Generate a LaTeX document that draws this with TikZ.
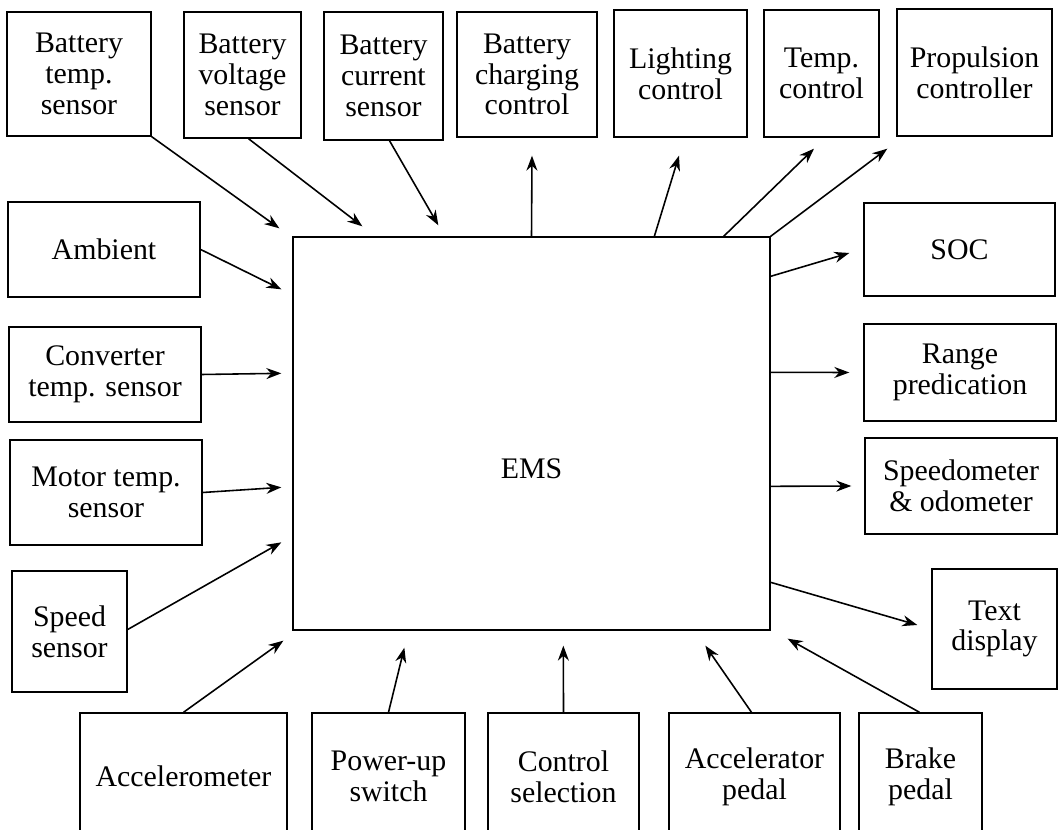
\documentclass[tikz,border=0pt]{standalone}
\usepackage{fontspec}
\setmainfont{Liberation Serif}
\usetikzlibrary{arrows.meta}

\begin{document}
\begin{tikzpicture}[
  x=0.02cm,y=-0.02cm,
  box/.style={rectangle,draw=black,line width=0.8pt,align=center,inner sep=2pt,font=\fontsize{17}{17.5}\selectfont},
  label text/.style={font=\fontsize{17}{17.5}\selectfont},
  arrow/.style={-{Stealth[length=3mm,width=2.2mm]},line width=0.9pt}
]
\useasboundingbox (0,0) rectangle (1059,830);
\clip (0,0) rectangle (1059,830);
\node[box,minimum width=2.88cm,minimum height=2.48cm] (bts) at (79,74) {Battery\\temp.\\sensor};
\node[box,minimum width=2.34cm,minimum height=2.52cm] (bvs) at (242.5,75) {Battery\\voltage\\sensor};
\node[box,minimum width=2.38cm,minimum height=2.56cm] (bcs) at (383.5,76) {Battery\\current\\sensor};
\node[box,minimum width=2.8cm,minimum height=2.5cm] (bcc) at (527,74.5) {Battery\\charging\\control};
\node[box,minimum width=2.66cm,minimum height=2.54cm] (lc) at (680.5,73.5) {Lighting\\control};
\node[box,minimum width=2.3cm,minimum height=2.54cm] (tc) at (821.5,73.5) {Temp.\\control};
\node[box,minimum width=3.1cm,minimum height=2.54cm] (pc) at (974.5,72.5) {Propulsion\\controller};
\node[box,minimum width=3.84cm,minimum height=1.9cm] (amb) at (104,249.5) {Ambient};
\node[box,minimum width=3.84cm,minimum height=1.9cm] (cts) at (105,374.5) {Converter\\temp. sensor};
\node[box,minimum width=3.84cm,minimum height=2.1cm] (mts) at (106,492.5) {Motor temp.\\sensor};
\node[box,minimum width=2.3cm,minimum height=2.42cm] (ss) at (69.5,631.5) {Speed\\sensor};
\node[box,minimum width=3.82cm,minimum height=1.86cm] (soc) at (959.5,249.5) {SOC};
\node[box,minimum width=3.84cm,minimum height=1.94cm] (rp) at (960,372.5) {Range\\predication};
\node[box,minimum width=3.84cm,minimum height=1.92cm] (sp) at (961,486) {Speedometer\\\& odometer};
\node[box,minimum width=2.5cm,minimum height=2.4cm] (td) at (994.5,629) {Text\\display};
\node[box,minimum width=4.14cm,minimum height=2.54cm] (acc) at (183.5,776.5) {Accelerometer};
\node[box,minimum width=3.06cm,minimum height=2.54cm] (pus) at (388.5,776.5) {Power-up\\switch};
\node[box,minimum width=3.02cm,minimum height=2.54cm] (cs) at (563.5,776.5) {Control\\selection};
\node[box,minimum width=3.42cm,minimum height=2.54cm] (ap) at (754.5,776.5) {Accelerator\\pedal};
\node[box,minimum width=2.46cm,minimum height=2.54cm] (bp) at (920.5,776.5) {Brake\\pedal};
\node[box,minimum width=9.54cm,minimum height=7.86cm] (ems) at (531.5,433.5) {};
\node[label text] (emslabel) at ([shift={(0,35)}]ems.center) {EMS};
\draw[arrow] (bts.south east) -- ([shift={(-13,-8)}]ems.north west);
\draw[arrow] ([shift={(6,0)}]bvs.south) -- ([shift={(70,-10)}]ems.north west);
\draw[arrow] ([shift={(6,0)}]bcs.south) -- ([shift={(146,-11)}]ems.north west);
\draw[arrow] (amb.east) -- ([shift={(-11,53)}]ems.north west);
\draw[arrow] (cts.east) -- ([shift={(-11,137)}]ems.north west);
\draw[arrow] (mts.east) -- ([shift={(-11,251)}]ems.north west);
\draw[arrow] ([shift={(0,-2)}]ss.east) -- ([shift={(-11,306)}]ems.north west);
\draw[arrow] (acc.north) -- ([shift={(-9,10)}]ems.south west);
\draw[arrow] (pus.north) -- ([shift={(112,17)}]ems.south west);
\draw[arrow] (cs.north) -- ([shift={(271,15)}]ems.south west);
\draw[arrow] ([shift={(-3,0)}]ap.north) -- ([shift={(413,15)}]ems.south west);
\draw[arrow] ([shift={(-1,0)}]bp.north) -- ([shift={(17,8)}]ems.south east);
\draw[arrow] (ems.north) -- ([shift={(5,18)}]bcc.south);
\draw[arrow] ([shift={(362,0)}]ems.north west) -- ([shift={(-1.5,18)}]lc.south);
\draw[arrow] ([shift={(-47,0)}]ems.north east) -- ([shift={(-7.5,11)}]tc.south);
\draw[arrow] (ems.north east) -- ([shift={(-9,12)}]pc.south west);
\draw[arrow] ([shift={(0,40)}]ems.north east) -- ([shift={(-14,3.5)}]soc.west);
\draw[arrow] ([shift={(0,136)}]ems.north east) -- ([shift={(-14,0)}]rp.west);
\draw[arrow] ([shift={(0,250)}]ems.north east) -- ([shift={(-13,0)}]sp.west);
\draw[arrow] ([shift={(0,346)}]ems.north east) -- ([shift={(-14,-4)}]td.west);
\end{tikzpicture}
\end{document}
